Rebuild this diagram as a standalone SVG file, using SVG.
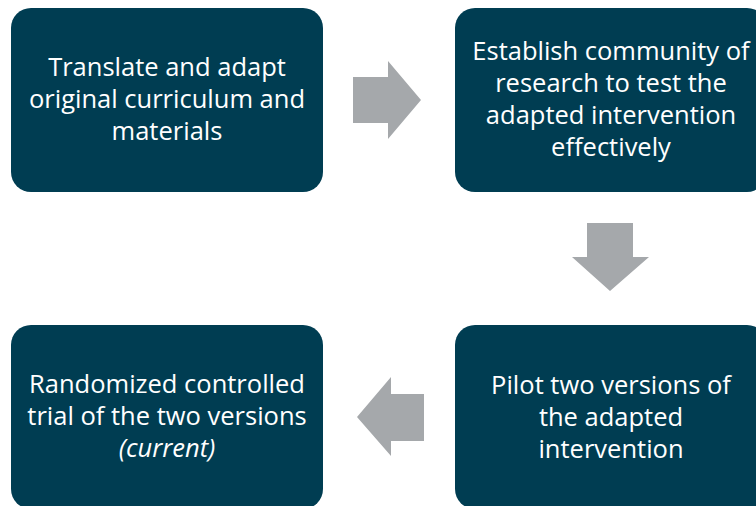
<svg xmlns="http://www.w3.org/2000/svg" width="756" height="506" viewBox="0 0 756 506">
<style>
.box{fill:#003D52}
.arr{fill:#A5A8AB}
.t{font-family:"Open Sans","Noto Sans",sans-serif;font-size:25.5px;fill:#FFFFFF;text-anchor:middle}
.i{font-style:italic}
</style>
<rect width="756" height="506" fill="#FFFFFF"/>
<g id="node1">
<rect class="box" x="11" y="8" width="312" height="184" rx="20"/>
<text class="t" x="167" y="76">Translate and adapt</text>
<text class="t" x="167" y="108">original curriculum and</text>
<text class="t" x="167" y="140">materials</text>
</g>
<g id="node2">
<rect class="box" x="455" y="8" width="312" height="184" rx="20"/>
<text class="t" x="611" y="60">Establish community of</text>
<text class="t" x="611" y="92">research to test the</text>
<text class="t" x="611" y="124">adapted intervention</text>
<text class="t" x="611" y="156">effectively</text>
</g>
<g id="node3">
<rect class="box" x="455" y="325" width="312" height="184" rx="20"/>
<text class="t" x="611" y="394">Pilot two versions of</text>
<text class="t" x="611" y="426">the adapted</text>
<text class="t" x="611" y="458">intervention</text>
</g>
<g id="node4">
<rect class="box" x="11" y="325" width="312" height="184" rx="20"/>
<text class="t" x="167" y="393">Randomized controlled</text>
<text class="t" x="167" y="425">trial of the two versions</text>
<text class="t i" x="167" y="457">(current)</text>
</g>
<g id="connectors">
<polygon class="arr" points="353,77 388,77 388,61 421,100 388,139 388,123 353,123"/>
<polygon class="arr" points="587,223 633,223 633,257 649,257 610,291 572,257 587,257"/>
<polygon class="arr" points="424,394 391,394 391,377 357,417 391,456 391,441 424,441"/>
</g>
</svg>
